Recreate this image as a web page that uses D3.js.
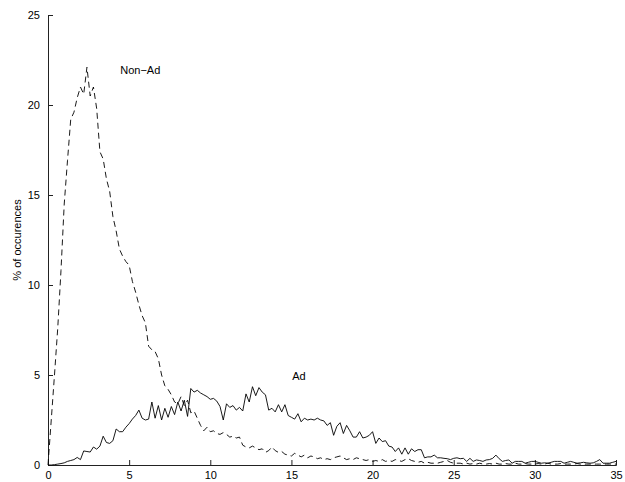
<!DOCTYPE html>
<html>
<head>
<meta charset="utf-8">
<script src="https://cdn.jsdelivr.net/npm/d3@7"></script>
<style>
  html, body { margin: 0; padding: 0; background: #fff; }
  svg { display: block; }
  text { font-family: "Liberation Sans", Arial, Helvetica, sans-serif; fill: #000; }
</style>
</head>
<body>
<svg id="chart" width="625" height="482"></svg>
<script>
// Histogram of occurrences, binned every 0.2 units from 0 to 35
const binStep = 0.2;
const binCount = 176;

// Ad occurrences (%)
const adValues = [
  0, 0, 0.02, 0.05, 0.08, 0.12, 0.2, 0.25, 0.3, 0.42,
  0.3, 0.78, 0.75, 0.72, 1.0, 0.88, 1.05, 1.6, 1.25, 1.2,
  1.35, 2.0, 1.85, 1.85, 2.1, 2.3, 2.55, 2.75, 3.05, 2.6,
  2.5, 2.55, 3.5, 2.6, 3.3, 2.5, 3.15, 2.65, 3.25, 2.8,
  3.5, 3.0, 3.6, 2.7, 4.25, 4.05, 4.15, 4.0, 3.9, 3.8,
  3.65, 3.7, 3.55, 3.25, 2.5, 3.4, 3.2, 3.3, 3.05, 3.2,
  3.0, 3.95, 3.5, 4.35, 3.85, 4.3, 4.05, 3.9, 3.05, 3.15,
  2.95, 3.35, 2.95, 3.35, 2.75, 2.65, 2.55, 2.85, 2.4, 2.6,
  2.5, 2.55, 2.5, 2.6, 2.5, 2.45, 2.2, 2.35, 1.65, 2.15,
  2.35, 1.75, 2.2, 1.9, 1.55, 1.55, 1.85, 1.5, 1.55, 1.65,
  1.85, 1.2, 1.5, 1.3, 1.35, 1.05, 1.0, 0.75, 0.95, 0.6,
  0.95, 0.6, 0.9, 0.75, 0.85, 0.85, 0.4, 0.45, 0.45, 0.55,
  0.4, 0.4, 0.37, 0.35, 0.3, 0.37, 0.4, 0.35, 0.37, 0.2,
  0.37, 0.2, 0.28, 0.25, 0.2, 0.28, 0.3, 0.37, 0.55, 0.35,
  0.2, 0.25, 0.28, 0.1, 0.2, 0.2, 0.2, 0.1, 0.15, 0.2,
  0.2, 0.15, 0.1, 0.12, 0.1, 0.15, 0.2, 0.2, 0.2, 0.1,
  0.15, 0.2, 0.15, 0.1, 0.12, 0.15, 0.12, 0.1, 0.12, 0.2,
  0.3, 0.1, 0.1, 0.1, 0.15, 0.2
];

// Non-Ad occurrences (%)
const nonAdValues = [
  0, 2.5, 5.0, 7.6, 10.8, 14.5, 16.9, 19.2, 19.6, 20.4,
  21.0, 20.6, 22.1, 20.5, 21.0, 19.8, 17.4, 17.0, 15.9, 15.2,
  13.8, 13.0, 12.0, 11.6, 11.3, 11.1, 10.2, 9.6, 8.9, 8.3,
  7.9, 6.6, 6.4, 6.3, 5.9, 5.0, 4.4, 4.2, 3.9, 3.5,
  3.4, 3.8, 3.3, 3.6, 2.9, 3.0, 2.6, 2.2, 1.9, 2.1,
  1.85, 1.9, 1.75, 1.7, 1.8, 1.7, 1.55, 1.6, 1.5, 1.55,
  1.1, 1.0, 0.95, 1.05, 0.95, 0.85, 0.9, 0.7, 0.8, 1.0,
  0.8, 0.7, 0.75, 0.6, 0.55, 0.5, 0.65, 0.55, 0.45, 0.55,
  0.4, 0.5, 0.45, 0.35, 0.4, 0.3, 0.35, 0.3, 0.4, 0.45,
  0.5, 0.4, 0.3, 0.35, 0.3, 0.4, 0.35, 0.3, 0.25, 0.3,
  0.2, 0.25, 0.2, 0.3, 0.2, 0.25, 0.2, 0.3, 0.25, 0.2,
  0.3, 0.35, 0.25, 0.2, 0.15, 0.2, 0.1, 0.15, 0.1, 0.1,
  0.1, 0.15, 0.2, 0.25, 0.15, 0.1, 0.1, 0.1, 0.05, 0.1,
  0.05, 0.08, 0.05, 0.1, 0.05, 0.05, 0.08, 0.05, 0.1, 0.05,
  0.05, 0.08, 0.05, 0.05, 0.1, 0.05, 0.05, 0.08, 0.05, 0.05,
  0.05, 0.08, 0.05, 0.05, 0.1, 0.05, 0.05, 0.05, 0.08, 0.05,
  0.05, 0.05, 0.05, 0.08, 0.05, 0.05, 0.05, 0.05, 0.05, 0.05,
  0.05, 0.05, 0.05, 0.05, 0.05, 0.05
];

const xTicks = [0, 5, 10, 15, 20, 25, 30, 35];
const yTicks = [0, 5, 10, 15, 20, 25];
const seriesLabels = ["Non\u2212Ad", "Ad"];
const yTitle = "% of occurences";

const binPositions = d3.range(binCount).map(i => +(i * binStep).toFixed(2));

const svg = d3.select("#chart");
const margin = { left: 48, right: 9, top: 15, bottom: 17 };
const W = 625, H = 482;

const x = d3.scaleLinear().domain([0, 35]).range([margin.left, W - margin.right]);
const y = d3.scaleLinear().domain([0, 25]).range([H - margin.bottom, margin.top]);

// Axes with ticks pointing into the plot area
const xAxis = d3.axisBottom(x).tickValues(xTicks).tickSize(-5).tickPadding(6).tickFormat(d3.format("d"));
const yAxis = d3.axisLeft(y).tickValues(yTicks).tickSize(-5).tickPadding(8).tickFormat(d3.format("d"));

const gx = svg.append("g").attr("transform", `translate(0,${y(0)})`).call(xAxis);
const gy = svg.append("g").attr("transform", `translate(${x(0)},0)`).call(yAxis);

[gx, gy].forEach(g => {
  g.select(".domain").attr("stroke", "#222").attr("stroke-width", 1);
  g.selectAll(".tick line").attr("stroke", "#222").attr("stroke-width", 1);
  g.selectAll(".tick text").attr("fill", "#000").style("font-size", "11px")
    .style("font-family", "'Liberation Sans', Arial, sans-serif");
});

// Series lines
const line = d3.line()
  .x((d, i) => x(binPositions[i]))
  .y(d => y(d));

svg.append("path")
  .datum(nonAdValues)
  .attr("fill", "none")
  .attr("stroke", "#000")
  .attr("stroke-width", 0.9)
  .attr("stroke-dasharray", "6,4")
  .attr("d", line);

svg.append("path")
  .datum(adValues)
  .attr("fill", "none")
  .attr("stroke", "#000")
  .attr("stroke-width", 0.9)
  .attr("d", line);

// Series annotations
svg.append("text")
  .attr("x", x(4.45)).attr("y", y(21.7))
  .attr("fill", "#000")
  .style("font-size", "11px")
  .text(seriesLabels[0]);

svg.append("text")
  .attr("x", x(15.05)).attr("y", y(4.7))
  .attr("fill", "#000")
  .style("font-size", "11px")
  .text(seriesLabels[1]);

// Y-axis title
svg.append("text")
  .attr("transform", `translate(21,${y(12.5)}) rotate(-90)`)
  .attr("text-anchor", "middle")
  .attr("fill", "#000")
  .style("font-size", "11px")
  .text(yTitle);
</script>
</body>
</html>
